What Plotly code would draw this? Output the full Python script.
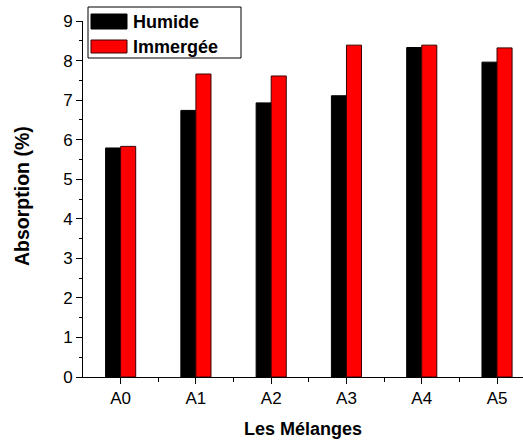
import plotly.graph_objects as go

# Water absorption of each mix, humid vs. immersed curing
categories = ["A0", "A1", "A2", "A3", "A4", "A5"]
humide = [5.79, 6.74, 6.93, 7.11, 8.33, 7.96]
immergee = [5.83, 7.66, 7.61, 8.39, 8.39, 8.32]
y_ticks = list(range(10))

xpos = list(range(len(categories)))
FONT = "Liberation Sans, Arial, sans-serif"

W, H = 523, 441
ML, MR, MT, MB = 83, 0, 21, 64

fig = go.Figure()
fig.add_trace(go.Bar(
    x=xpos, y=humide, name="Humide", width=0.2, offset=-0.2,
    marker=dict(color="#000000", line=dict(color="#000000", width=1)),
))
fig.add_trace(go.Bar(
    x=xpos, y=immergee, name="Immergée", width=0.2, offset=0.0,
    marker=dict(color="#ff0000", line=dict(color="#3a0000", width=1)),
))

fig.update_layout(
    width=W, height=H,
    margin=dict(l=ML, r=MR, t=MT, b=MB),
    paper_bgcolor="white", plot_bgcolor="white",
    barmode="overlay", showlegend=False,
    font=dict(family=FONT, size=17, color="black"),
)

fig.update_xaxes(
    range=[-0.5, 5.345],
    tickmode="array", tickvals=xpos, ticktext=categories,
    ticks="outside", ticklen=6, tickwidth=1, tickcolor="black",
    minor=dict(tickmode="array", tickvals=[i + 0.5 for i in xpos],
               ticks="outside", ticklen=4, tickwidth=1, tickcolor="black"),
    showline=True, linecolor="black", linewidth=1,
    showgrid=False, zeroline=False,
    tickfont=dict(family=FONT, size=17),
)
fig.update_yaxes(
    range=[0, 9],
    tickmode="array", tickvals=y_ticks,
    ticks="outside", ticklen=6, tickwidth=1, tickcolor="black",
    minor=dict(dtick=0.5, ticks="outside", ticklen=3, tickwidth=1, tickcolor="black"),
    showline=True, linecolor="black", linewidth=1,
    showgrid=False, zeroline=False,
    tickfont=dict(family=FONT, size=17),
)

# pixel -> paper coordinates of the plot area
plot_w = W - ML - MR
plot_h = H - MT - MB
def ppx(x):
    return (x - ML) / plot_w
def ppy(y):
    return (H - MB - y) / plot_h

# Axis titles
fig.add_annotation(
    xref="paper", yref="paper", x=ppx(303), y=ppy(429),
    xanchor="center", yanchor="middle", showarrow=False,
    text="<b>Les Mélanges</b>", font=dict(family=FONT, size=18, color="black"),
)
fig.add_annotation(
    xref="paper", yref="paper", x=ppx(22), y=ppy(196),
    xanchor="center", yanchor="middle", showarrow=False, textangle=-90,
    text="<b>Absorption (%)</b>", font=dict(family=FONT, size=19.5, color="black"),
)

# Boxed legend in the upper-left corner of the plot
shapes = [
    dict(type="rect", xref="paper", yref="paper",
         x0=ppx(88), x1=ppx(241), y0=ppy(58), y1=ppy(7),
         line=dict(color="black", width=1), fillcolor="white", layer="above"),
    dict(type="rect", xref="paper", yref="paper",
         x0=ppx(91), x1=ppx(127), y0=ppy(29), y1=ppy(14),
         line=dict(color="black", width=1), fillcolor="#000000", layer="above"),
    dict(type="rect", xref="paper", yref="paper",
         x0=ppx(91), x1=ppx(127), y0=ppy(53), y1=ppy(40),
         line=dict(color="#3a0000", width=1), fillcolor="#ff0000", layer="above"),
]
fig.update_layout(shapes=shapes)

for label, yc in (("Humide", 21.5), ("Immergée", 46.5)):
    fig.add_annotation(
        xref="paper", yref="paper", x=ppx(131), y=ppy(yc),
        xanchor="left", yanchor="middle", showarrow=False,
        text=f"<b>{label}</b>", font=dict(family=FONT, size=18, color="black"),
    )

fig.write_html("out.html")
